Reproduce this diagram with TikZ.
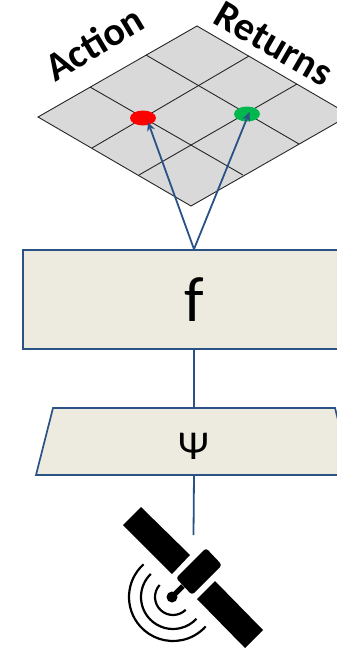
\documentclass[tikz,border=0pt]{standalone}
\usepackage{fontspec}
\setmainfont{Carlito}
\usetikzlibrary{arrows.meta,shapes.geometric}
\definecolor{bluelin}{HTML}{2A5285}
\definecolor{boxfill}{HTML}{EDEBE0}
\definecolor{gridfill}{HTML}{D9D9D9}
\definecolor{gridline}{HTML}{262626}
\definecolor{dotgreen}{HTML}{00B84E}
\tikzset{
  gridl/.style={draw=gridline,line width=0.9pt},
  conn/.style={draw=bluelin,line width=1.8pt},
  arrowconn/.style={conn,-{Stealth[length=9pt,width=8pt,inset=3pt]}},
  block/.style={draw=bluelin,line width=1.7pt,fill=boxfill,inner sep=0pt},
  dot/.style={ellipse,minimum width=26pt,minimum height=15pt,inner sep=0pt},
  title/.style={font=\bfseries\fontsize{40}{40}\selectfont,inner sep=0pt},
  symb/.style={inner sep=0pt},
  sat/.style={fill=black,draw=none},
  wave/.style={draw=black,line width=2.2pt}
}
\begin{document}
\begin{tikzpicture}[x=1pt,y=1pt,yscale=-1]
\useasboundingbox (0,0) rectangle (337,656);
\clip (0,0) rectangle (337,656);
% grid
\fill[gridfill] (38,117) -- (197,26) -- (350,115) -- (191,206) -- cycle;
\draw[gridl] (38,117) -- (197,26) -- (350,115) -- (191,206) -- cycle;
\draw[gridl] (90,87) -- (243,175);
\draw[gridl] (146,55) -- (299,144);
\draw[gridl] (92,148) -- (249,56);
\draw[gridl] (139,175) -- (297,84);
% dots
\node[dot,fill=red] (action) at (143,118) {};
\node[dot,fill=dotgreen] (returns) at (247,114) {};
\coordinate (actiontip) at (148,122);
\coordinate (returnstip) at (249.5,112);
% labels
\node[title,rotate=31] (lact) at (94,43) {Action};
\node[title,rotate=-30] (lret) at (274,44) {Returns};
% blocks
\node[block,minimum width=342pt,minimum height=99pt] (f) at (194,299.5) {\fontsize{64}{64}\selectfont f};
\coordinate (psitop) at (194,408);
\coordinate (psibot) at (194,475);
\fill[boxfill] (53,408) -- (335,408) -- (352,475) -- (36,475) -- cycle;
\draw[block] (53,408) -- (335,408) -- (352,475) -- (36,475) -- cycle;
\node[symb] (psi) at (193.5,446) {\fontsize{41}{41}\selectfont Ψ};
\coordinate (satend) at (193.5,535);
% connectors
\draw[arrowconn] (f.north) -- (actiontip);
\draw[arrowconn] (f.north) -- (returnstip);
\draw[conn] (f.south) -- (psitop);
\draw[conn] (psibot) -- (satend);
% satellite
\fill[sat] (141,507) -- (123,525) -- (172,574) -- (190,555) -- cycle;
\fill[sat] (215,581) -- (197,599) -- (245,648) -- (263,630) -- cycle;
\fill[sat,rounded corners=3pt] (206,548) -- (222,565) -- (192,595) -- (176,578) -- cycle;
\draw[line width=5pt] (183,586) -- (173,596);
\fill[sat] (172,597) circle (5.5pt);
\draw[wave] (173,597) ++(228:44) arc[start angle=228,end angle=42,radius=44];
\draw[wave] (173,597) ++(226:32) arc[start angle=226,end angle=43,radius=32];
\draw[wave] (173,597) ++(222:18) arc[start angle=222,end angle=45,radius=18];
\end{tikzpicture}
\end{document}
